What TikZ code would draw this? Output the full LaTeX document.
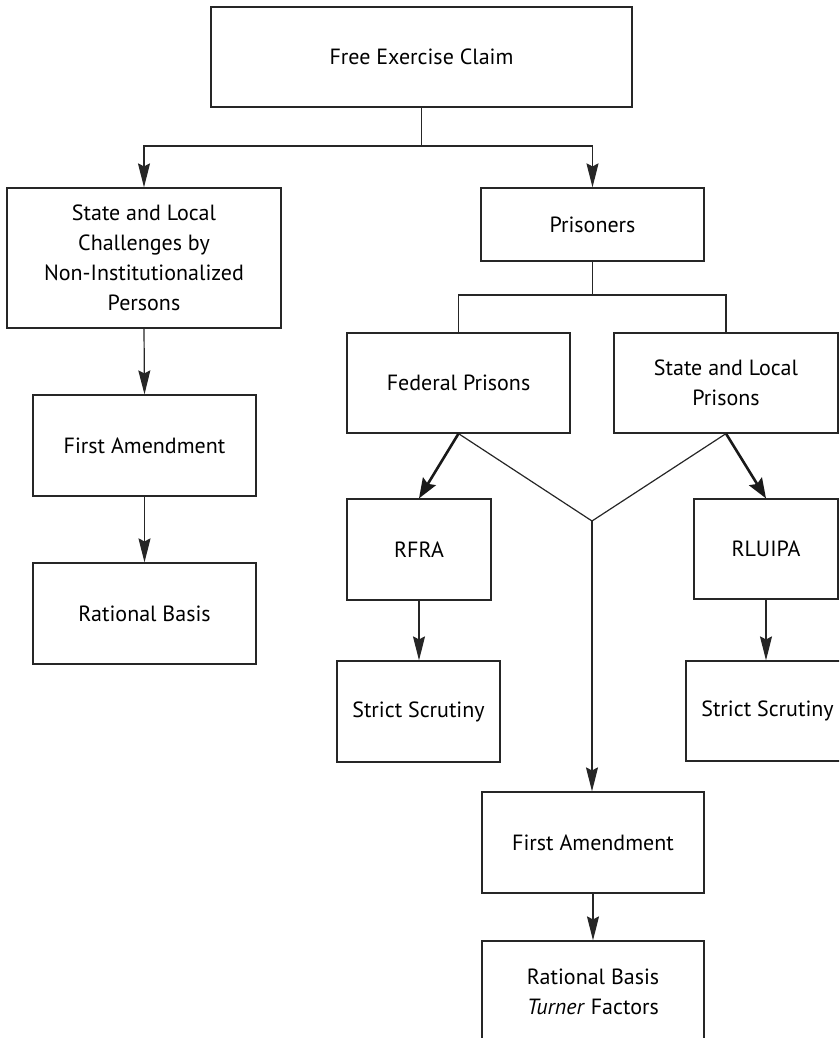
\documentclass[tikz,border=0pt]{standalone}
\usepackage{fontspec}
\setmainfont{PT Sans}
\usetikzlibrary{arrows.meta}
\tikzset{
  box/.style={draw=black!85, line width=1.2pt, align=center, inner sep=0pt,
    font=\fontsize{22}{30}\selectfont},
  link/.style={draw=black!85, line width=1.2pt},
  arr/.style={link, -{Stealth[length=24pt, width=12pt, inset=3pt]}},
  bold arr/.style={draw=black!90, line width=2.6pt,
    -{Stealth[length=20pt, width=15pt, inset=3pt]}},
}
\begin{document}
\begin{tikzpicture}[x=1pt, y=-1pt]
\useasboundingbox (0,0) rectangle (839,1038);
\clip (0,0) rectangle (839,1038);

% boxes
\node[box, minimum width=421pt, minimum height=100pt] (claim) at (421.5,57) {Free Exercise Claim};
\node[box, minimum width=274pt, minimum height=140pt] (chal) at (144,258)
  {State and Local\\Challenges by\\Non-Institutionalized\\Persons};
\node[box, minimum width=223pt, minimum height=101pt] (fa1) at (144.5,445.5) {First Amendment};
\node[box, minimum width=223pt, minimum height=101pt] (rb1) at (144.5,613.5) {Rational Basis};

\node[box, minimum width=223pt, minimum height=73pt] (pris) at (592.5,224.5) {Prisoners};
\node[box, minimum width=223pt, minimum height=100pt] (fed) at (458.5,383) {Federal Prisons};
\node[box, minimum width=224pt, minimum height=100pt] (slp) at (726,383) {State and Local\\Prisons};
\node[box, minimum width=144pt, minimum height=101pt] (rfra) at (419,549.5) {RFRA};
\node[box, minimum width=144pt, minimum height=100pt] (rluipa) at (766,549) {RLUIPA};
\node[box, minimum width=163pt, minimum height=101pt] (ss1) at (418.5,711.5) {Strict Scrutiny};
\node[box, minimum width=163pt, minimum height=100pt] (ss2) at (767.5,711) {Strict Scrutiny};
\node[box, minimum width=222pt, minimum height=101pt] (fa2) at (593,842.5) {First Amendment};
\node[box, minimum width=222pt, minimum height=101pt] (rb2) at (593,991.5) {Rational Basis\\\textit{Turner} Factors};

% junction points
\coordinate (j1) at (421.5,146);
\coordinate (j2) at (592.5,295);
\coordinate (fork) at (592,521);

% top split
\draw[link] (claim.south) -- (j1);
\draw[arr] (j1) -| (chal.north);
\draw[arr] (j1) -| (pris.north);

% left column
\draw[arr] (chal.south) -- (fa1.north);
\draw[arr] (fa1.south) -- (rb1.north);

% prisoners split
\draw[link] (pris.south) -- (j2);
\draw[link] (j2) -| (fed.north);
\draw[link] (j2) -| (slp.north);

% statutory branches
\draw[bold arr] (fed.south) -- (rfra.north);
\draw[bold arr] (slp.south) -- (rluipa.north);
\draw[arr] (rfra.south) -- (rfra.south |- ss1.north);
\draw[arr] (rluipa.south) -- (rluipa.south |- ss2.north);

% constitutional branch
\draw[link] (fed.south) -- (fork);
\draw[link] (slp.south) -- (fork);
\draw[arr] (fork) -- (fork |- fa2.north);
\draw[arr] (fa2.south) -- (rb2.north);
\end{tikzpicture}
\end{document}
